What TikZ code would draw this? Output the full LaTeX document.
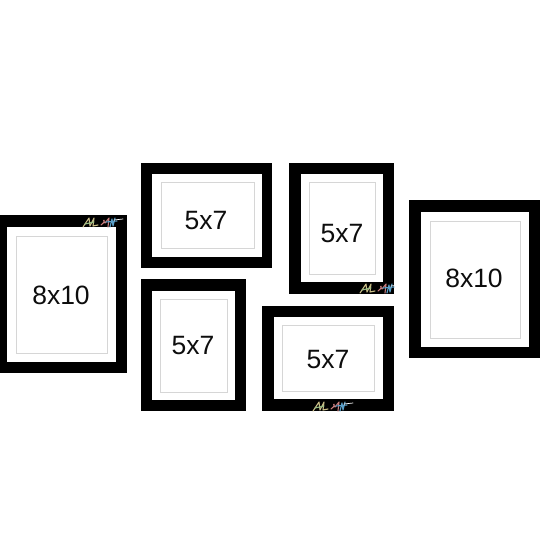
\documentclass[tikz,border=0pt]{standalone}
\usepackage{fontspec}
\setmainfont{Liberation Sans}
\definecolor{matline}{gray}{0.84}
\definecolor{logotan}{HTML}{C8BC86}
\definecolor{logored}{HTML}{C87C7C}
\definecolor{logoblue}{HTML}{5A9FC8}
\definecolor{logogreen}{HTML}{94BC84}
\tikzset{
  frameblack/.style={fill=black,draw=none},
  matwhite/.style={fill=white,draw=none},
  openingline/.style={draw=matline,line width=0.8pt,fill=white},
  sizelabel/.style={font=\fontsize{26.5}{30}\selectfont,text=black!95,inner sep=0pt,anchor=center},
  scribble/.style={line width=1.1pt,line cap=round,line join=round},
  pics/artlogo/.style={code={
    \draw[scribble,logotan] (0,10) -- (6,1) -- (7,9) -- (11,1) -- (10,9) -- (15,8);
    \draw[scribble,logogreen] (2,7) -- (11,5);
    \draw[scribble,logored] (18,8) .. controls (25,3) and (18,1) .. (22,6) -- (26,1) -- (25,10);
    \draw[scribble,logoblue] (27,10) -- (29,2) -- (30,9) -- (32,1);
    \draw[scribble,logoblue] (23,5) -- (34,4);
    \draw[scribble,white,line width=0.7pt] (31,3) -- (40,2);
  }}
}
\newcommand{\pframe}[9]{%
  \fill[frameblack] (#1,#2) rectangle (#3,#4);
  \fill[matwhite] (#5,#6) rectangle (#7,#8);
  #9
}
\begin{document}
\begin{tikzpicture}[x=1pt,y=-1pt]
\useasboundingbox[fill=white] (0,0) rectangle (550,550);
% left 8x10
\pframe{-1}{215}{127}{373}{7}{227}{116}{362}{\draw[openingline] (16,236) rectangle (107,353);}
\node[sizelabel] (a) at (61,295) {8x10};
% top 5x7 landscape
\pframe{141}{163}{272}{268}{152}{174}{262}{257}{\draw[openingline] (161,182) rectangle (254,248);}
\node[sizelabel] (b) at (206,221) {5x7};
% top 5x7 portrait
\pframe{289}{163}{394}{294}{301}{174}{383}{282}{\draw[openingline] (309,182) rectangle (375,274);}
\node[sizelabel] (c) at (342,234) {5x7};
% right 8x10
\pframe{409}{200}{540}{358}{421}{212}{529}{347}{\draw[openingline] (430,221) rectangle (520,338);}
\node[sizelabel] (d) at (474,278) {8x10};
% bottom 5x7 portrait
\pframe{141}{279}{246}{411}{152}{291}{235}{400}{\draw[openingline] (160,299) rectangle (227,392);}
\node[sizelabel] (e) at (193,346) {5x7};
% bottom 5x7 landscape
\pframe{262}{306}{394}{411}{274}{317}{383}{399}{\draw[openingline] (282,325) rectangle (374,391);}
\node[sizelabel] (f) at (328,360) {5x7};
% logos
\pic at (83,217) {artlogo};
\pic at (360,283) {artlogo};
\pic at (313,401) {artlogo};
\end{tikzpicture}
\end{document}
